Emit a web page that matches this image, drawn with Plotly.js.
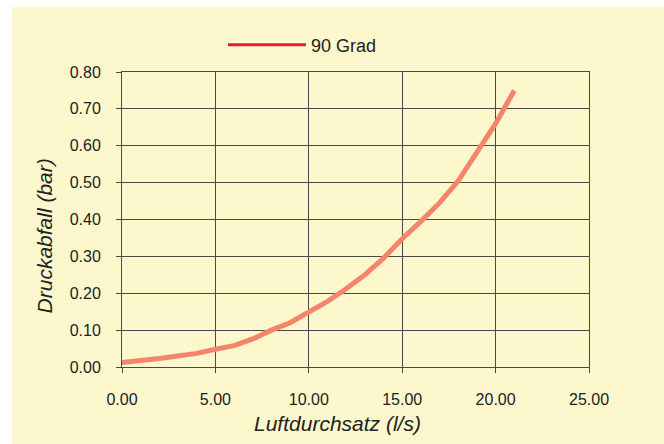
<!DOCTYPE html>
<html>
<head>
<meta charset="utf-8">
<script src="https://cdn.plot.ly/plotly-3.0.1.min.js"></script>
<style>
  html, body { margin: 0; padding: 0; background: #ffffff; }
  #chart { position: absolute; left: 12px; top: 7px; width: 652px; height: 437px; }
</style>
</head>
<body>
<div id="chart"></div>
<script>
const seriesName = "90 Grad";
const flow = [0, 1, 2, 3, 4, 5, 6, 7, 8, 9, 10, 11, 12, 13, 14, 15, 16, 17, 18, 19, 20, 21];
const pressureDrop = [0.012, 0.016, 0.023, 0.030, 0.037, 0.048, 0.058, 0.076, 0.100, 0.120, 0.150, 0.178, 0.212, 0.250, 0.295, 0.348, 0.395, 0.445, 0.505, 0.580, 0.660, 0.750];
const xTitle = "Luftdurchsatz (l/s)";
const yTitle = "Druckabfall (bar)";

const bg = "#FCF7CC";
const gridCol = "#4a4a42";
const fontFam = "Liberation Sans, Arial, sans-serif";

const traces = [
  {
    x: flow, y: pressureDrop, type: "scatter", mode: "lines",
    line: { color: "#F4856A", width: 5 },
    showlegend: false, hoverinfo: "skip"
  },
  {
    x: [null], y: [null], type: "scatter", mode: "lines",
    name: seriesName,
    line: { color: "#E8173C", width: 3 },
    showlegend: true
  }
];

const axisCommon = {
  showgrid: true, gridcolor: gridCol, gridwidth: 1,
  showline: true, linecolor: gridCol, linewidth: 1, mirror: true,
  ticks: "outside", ticklen: 5, tickcolor: gridCol, tickwidth: 1,
  zeroline: false,
  tickfont: { family: fontFam, size: 16, color: "#222" },
  tickformat: ".2f"
};

const layout = {
  width: 652, height: 437,
  paper_bgcolor: bg, plot_bgcolor: bg,
  margin: { l: 110, r: 75, t: 65, b: 77, autoexpand: false },
  showlegend: true,
  legend: {
    orientation: "h", xref: "container", yref: "container",
    x: 0.3236, y: 0.913, xanchor: "left", yanchor: "middle",
    bgcolor: "rgba(0,0,0,0)",
    font: { family: fontFam, size: 18, color: "#222" },
    itemwidth: 78
  },
  xaxis: Object.assign({}, axisCommon, {
    range: [0, 25], dtick: 5, tick0: 0, ticklabelstandoff: 13
  }),
  yaxis: Object.assign({}, axisCommon, {
    range: [0, 0.8], dtick: 0.1, tick0: 0, ticklabelstandoff: 12
  }),
  annotations: [
    { text: xTitle, xref: "paper", yref: "paper", x: 0.4625, y: -0.19,
      xanchor: "center", yanchor: "middle", showarrow: false,
      font: { family: fontFam, size: 21, color: "#222", style: "italic" } },
    { text: yTitle, xref: "paper", yref: "paper", x: -0.165, y: 0.4458,
      xanchor: "center", yanchor: "middle", showarrow: false, textangle: -90,
      font: { family: fontFam, size: 21, color: "#222", style: "italic" } }
  ]
};

Plotly.newPlot("chart", traces, layout, { displayModeBar: false, staticPlot: true });
</script>
</body>
</html>
